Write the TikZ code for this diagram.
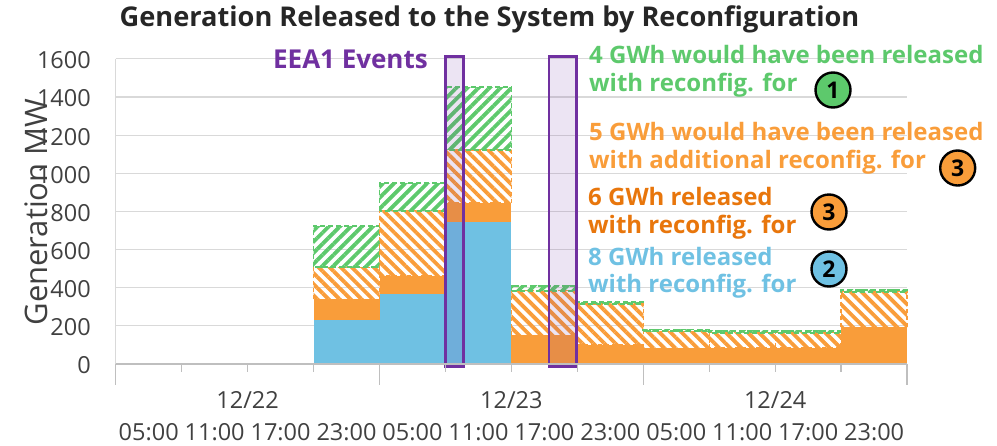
\documentclass[tikz,border=0pt]{standalone}
\usepackage{fontspec}
\setmainfont{Open Sans}
\usetikzlibrary{patterns.meta}

\definecolor{gridgray}{HTML}{D9D9D9}
\definecolor{axisgray}{HTML}{BFBFBF}
\definecolor{labgray}{HTML}{404040}
\definecolor{titlegray}{HTML}{262626}
\definecolor{blueB}{HTML}{6FC1E3}
\definecolor{orangeL}{HTML}{F99D3A}
\definecolor{orangeD}{HTML}{E8760C}
\definecolor{greenL}{HTML}{5DC96C}
\definecolor{purpleE}{HTML}{7030A0}

\begin{document}
\begin{tikzpicture}[x=1pt,y=-1pt,
  grid/.style={draw=gridgray, line width=1.1pt},
  axisline/.style={draw=axisgray, line width=1.4pt},
  ticklab/.style={font=\fontsize{23.5}{23.5}\selectfont, text=labgray, inner sep=0pt},
  legtext/.style={font=\fontsize{24}{24}\selectfont\bfseries, anchor=base west, inner sep=0pt},
  badge/.style={circle, draw=black, line width=2.4pt, minimum size=35pt, inner sep=0pt,
    font=\fontsize{23}{23}\selectfont\bfseries, text=black},
  hatchO/.style={pattern={Lines[angle=-45,distance=7.8pt,line width=3.8pt]}, pattern color=orangeL},
  hatchG/.style={pattern={Lines[angle=45,distance=7.8pt,line width=3.8pt]}, pattern color=greenL},
  dashO/.style={draw=orangeL, line width=1.4pt, dash pattern=on 4pt off 3pt},
  dashG/.style={draw=greenL, line width=1.8pt, dash pattern=on 5pt off 3pt},
  eea/.style={draw=purpleE, line width=2.4pt, fill=purpleE, fill opacity=0.13}
]
\useasboundingbox (0,0) rectangle (997,445);

% horizontal gridlines every 200 MW
\foreach \v in {200,400,...,1600}
  \draw[grid] (115.7,{364-0.19075*\v}) -- (907.3,{364-0.19075*\v});

% empty periods on 12/22
\draw[dashO] (115.7,364) -- (313.6,364);
\draw[dashG] (115.7,363.5) -- (313.6,363.5);

% stacked step bars: slot / blue / orange / hatched orange / hatched green (MW)
\foreach \i/\b/\o/\h/\g in {4/231/339/507/723, 5/365/461/804/947, 6/746/846/1122/1451,
    7/0/150/384/410, 8/0/100/315/325, 9/0/82/171/181, 10/0/84/164/174,
    11/0/84/164/174, 12/0/192/379/390}{
  \pgfmathsetmacro\xl{115.7+(\i-1)*65.95}
  \pgfmathsetmacro\xr{\xl+65.95}
  \pgfmathsetmacro\yb{364-0.19075*\b}
  \pgfmathsetmacro\yo{364-0.19075*\o}
  \pgfmathsetmacro\yh{364-0.19075*\h}
  \pgfmathsetmacro\yg{364-0.19075*\g}
  \fill[blueB] (\xl,364) rectangle (\xr,\yb);
  \fill[orangeL] (\xl,\yb) rectangle (\xr,\yo);
  \fill[hatchO] (\xl,\yo) rectangle (\xr,\yh);
  \draw[dashO] (\xl,\yo) rectangle (\xr,\yh);
  \fill[hatchG] (\xl,\yh) rectangle (\xr,\yg);
  \draw[dashG] (\xl,\yh) rectangle (\xr,\yg);
}

% event windows
\draw[eea] (445.5,56.5) rectangle (463.5,366.5);
\draw[eea] (549,56.5) rectangle (576.5,366.5);

% axes and ticks
\draw[grid] (115.7,58.8) -- (115.7,364);
\draw[axisline] (115.7,364) -- (907.3,364);
\foreach \i in {1,2,3,5,6,7,9,10,11}
  \draw[axisline] ({115.7+\i*65.95},364) -- ({115.7+\i*65.95},372);
\foreach \i in {0,4,8,12}
  \draw[axisline] ({115.7+\i*65.95},364) -- ({115.7+\i*65.95},385);

% axis labels
\foreach \v in {0,200,...,1600}
  \node[ticklab, anchor=east] (ylab\v) at (91,{365.5-0.19075*\v}) {\v};
\foreach \i/\t in {1/05:00,2/11:00,3/17:00,4/23:00,5/05:00,6/11:00,7/17:00,8/23:00,
    9/05:00,10/11:00,11/17:00,12/23:00}
  \node[ticklab, anchor=base] (xlab\i) at ({115.7+(\i-0.5)*65.95},440) {\t};
\node[ticklab, anchor=base] (day22) at (247.6,408.5) {12/22};
\node[ticklab, anchor=base] (day23) at (511.4,408.5) {12/23};
\node[ticklab, anchor=base] (day24) at (775.2,408.5) {12/24};
\node[font=\fontsize{31}{31}\selectfont, text=labgray, rotate=90, inner sep=0pt]
  (ytitle) at (36,212) {Generation MW};

% title
\node[font=\fontsize{27.2}{27.2}\selectfont\bfseries, text=titlegray, anchor=base, inner sep=0pt]
  (title) at (489.5,26.5) {Generation Released to the System by Reconfiguration};

% annotations
\node[font=\fontsize{26}{26}\selectfont\bfseries, anchor=base east, inner sep=0pt, text=purpleE]
  (eealab) at (428,68) {EEA1 Events};

\node[legtext, text=greenL] (g1) at (589,63) {4 GWh would have been released};
\node[legtext, text=greenL] (g2) at (589,91.7) {with reconfig. for};
\node[badge, fill=greenL] (c1) at (833,90) {1};

\node[legtext, text=orangeL] (o1) at (589,140) {5 GWh would have been released};
\node[legtext, text=orangeL] (o2) at (589,168) {with additional reconfig. for};
\node[badge, fill=orangeL] (c3a) at (957.7,168) {3};

\node[legtext, text=orangeD] (d1) at (588,205) {6 GWh released};
\node[legtext, text=orangeD] (d2) at (588,233) {with reconfig. for};
\node[badge, fill=orangeL] (c3b) at (829,212) {3};

\node[legtext, text=blueB] (b1) at (588,265) {8 GWh released};
\node[legtext, text=blueB] (b2) at (588,292) {with reconfig. for};
\node[badge, fill=blueB] (c2) at (829,269) {2};
\end{tikzpicture}
\end{document}
